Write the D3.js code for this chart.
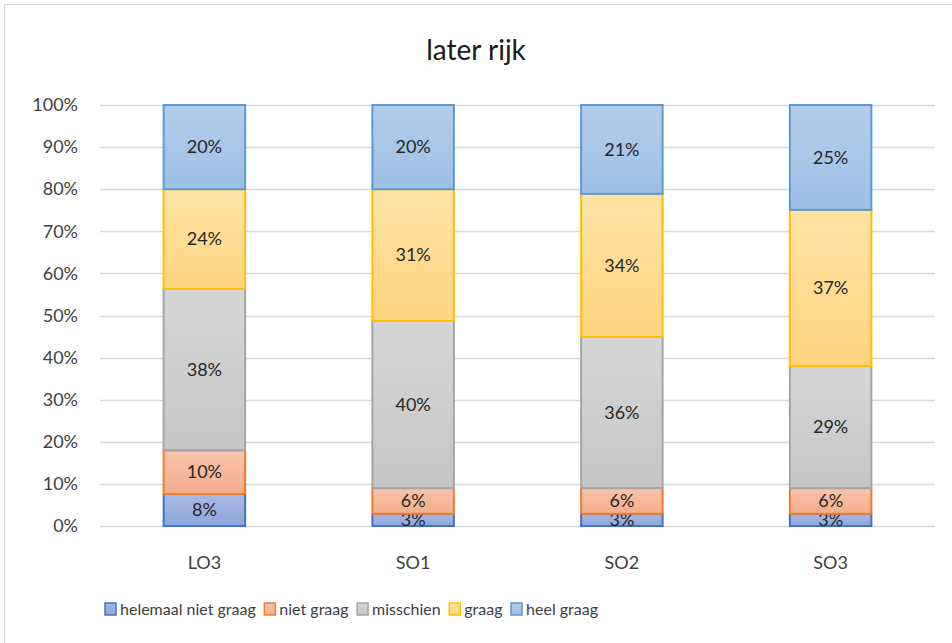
<!DOCTYPE html>
<html>
<head>
<meta charset="utf-8">
<script src="https://cdn.jsdelivr.net/npm/d3@7"></script>
<style>
  body { margin: 0; background: #fff; }
  text { font-family: Lato, "Open Sans", sans-serif; fill: #404040; }
</style>
</head>
<body>
<div id="wrapper"></div>
<script>
const categories = ["LO3", "SO1", "SO2", "SO3"]
const seriesNames = ["helemaal niet graag", "niet graag", "misschien", "graag", "heel graag"]
const helemaalNietGraag = [7.6, 2.9, 2.9, 2.9]
const nietGraag = [10.4, 6.1, 6.1, 6.1]
const misschien = [38.3, 39.7, 35.9, 29.0]
const graag = [23.7, 31.3, 34.0, 37.1]
const heelGraag = [20.0, 20.0, 21.1, 24.9]
const yTicks = [0, 10, 20, 30, 40, 50, 60, 70, 80, 90, 100]

const strokes = ["#4472C4", "#ED7D31", "#A5A5A5", "#FFC000", "#5B9BD5"]
const fillsTop = ["#a9b9e3", "#f9c4ab", "#d6d6d6", "#ffe3a6", "#b4cdea"]
const fillsBottom = ["#8ea6dc", "#f4ad8c", "#c6c6c6", "#ffd47f", "#9dbfe5"]

const table = categories.map((c, i) => ({
    cat: c,
    "helemaal niet graag": helemaalNietGraag[i],
    "niet graag": nietGraag[i],
    "misschien": misschien[i],
    "graag": graag[i],
    "heel graag": heelGraag[i],
}))

let dimensions = {
    width: 952,
    height: 643,
    margin: { top: 105, right: 17, bottom: 117, left: 100 },
}
dimensions.boundedWidth = dimensions.width - dimensions.margin.left - dimensions.margin.right
dimensions.boundedHeight = dimensions.height - dimensions.margin.top - dimensions.margin.bottom

const wrapper = d3.select("#wrapper")
    .append("svg")
    .attr("width", dimensions.width)
    .attr("height", dimensions.height)

// chart frame
wrapper.append("rect")
    .attr("x", 4.5).attr("y", 4.5)
    .attr("width", 960).attr("height", 660)
    .attr("fill", "#fff")
    .attr("stroke", "#d9d9d9")

const defs = wrapper.append("defs")
seriesNames.forEach((s, i) => {
    const g = defs.append("linearGradient")
        .attr("id", "grad" + i)
        .attr("x1", "0%").attr("x2", "0%")
        .attr("y1", "0%").attr("y2", "100%")
    g.append("stop").attr("offset", "0%").attr("stop-color", fillsTop[i])
    g.append("stop").attr("offset", "100%").attr("stop-color", fillsBottom[i])
})

wrapper.append("text")
    .attr("x", 476)
    .attr("y", 60)
    .attr("text-anchor", "middle")
    .style("font-size", "28px")
    .style("fill", "#1a1a1a")
    .text("later rijk")

const bounds = wrapper.append("g")
    .attr("transform", `translate(${dimensions.margin.left},${dimensions.margin.top})`)

const xScale = d3.scaleBand()
    .domain(categories)
    .range([0, dimensions.boundedWidth])
    .paddingInner(0.6)
    .paddingOuter(0.3)

const yScale = d3.scaleLinear()
    .domain([0, 100])
    .range([dimensions.boundedHeight, 0])

// gridlines
bounds.append("g")
    .selectAll("line")
    .data(yTicks)
    .join("line")
    .attr("x1", 0)
    .attr("x2", dimensions.boundedWidth)
    .attr("y1", d => Math.round(yScale(d)) + 0.5)
    .attr("y2", d => Math.round(yScale(d)) + 0.5)
    .attr("stroke", "#d9d9d9")
    .attr("stroke-width", 1.5)

// y axis
const yAxis = bounds.append("g")
    .call(d3.axisLeft(yScale).tickValues(yTicks).tickSize(0).tickPadding(22).tickFormat(d => d + "%"))
yAxis.select(".domain").remove()
yAxis.selectAll("text").style("font-size", "18px").style("fill", "#404040")

// x axis
const xAxis = bounds.append("g")
    .attr("transform", `translate(0,${dimensions.boundedHeight})`)
    .call(d3.axisBottom(xScale).tickSize(0).tickPadding(30))
xAxis.select(".domain").remove()
xAxis.selectAll("text").style("font-size", "18px").style("fill", "#404040")

const stack = d3.stack().keys(seriesNames)
const layers = stack(table)

const layerG = bounds.selectAll(".layer")
    .data(layers)
    .join("g")
    .attr("class", "layer")

layerG.selectAll("rect")
    .data(d => d.map(v => ({ v, key: d.key, idx: d.index })))
    .join("rect")
    .attr("x", d => xScale(d.v.data.cat) + 1)
    .attr("width", xScale.bandwidth() - 2)
    .attr("y", d => yScale(d.v[1]))
    .attr("height", d => yScale(d.v[0]) - yScale(d.v[1]))
    .attr("fill", d => `url(#grad${d.idx})`)
    .attr("stroke", d => strokes[d.idx])
    .attr("stroke-width", 2)

layerG.selectAll("text")
    .data(d => d.map(v => ({ v, key: d.key, idx: d.index })))
    .join("text")
    .attr("x", d => xScale(d.v.data.cat) + xScale.bandwidth() / 2)
    .attr("y", d => (yScale(d.v[0]) + yScale(d.v[1])) / 2)
    .attr("dy", "0.35em")
    .attr("text-anchor", "middle")
    .style("font-size", "18px")
    .style("fill", "#262626")
    .text(d => Math.round(d.v[1] - d.v[0]) + "%")

// legend, laid out by measured text widths between x=105 and x=598
const legendStart = 105, legendEnd = 598
const legend = wrapper.append("g")
    .selectAll("g")
    .data(seriesNames)
    .join("g")
legend.append("rect")
    .attr("x", 0).attr("y", -6)
    .attr("width", 11).attr("height", 12)
    .attr("fill", (d, i) => `url(#grad${i})`)
    .attr("stroke", (d, i) => strokes[i])
    .attr("stroke-width", 1.5)
legend.append("text")
    .attr("x", 15)
    .attr("dy", "0.35em")
    .style("font-size", "16px")
    .style("fill", "#404040")
    .text(d => d)
const widths = []
legend.select("text").each(function () { widths.push(15 + this.getComputedTextLength()) })
const gap = (legendEnd - legendStart - d3.sum(widths)) / (widths.length - 1)
let cx = legendStart
legend.attr("transform", (d, i) => {
    const t = `translate(${cx},609)`
    cx += widths[i] + gap
    return t
})
</script>
</body>
</html>
